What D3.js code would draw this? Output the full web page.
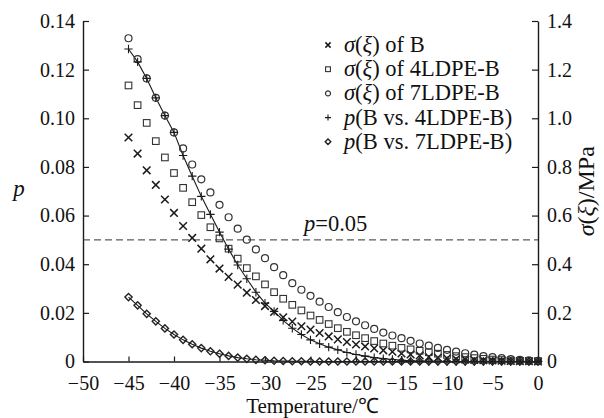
<!DOCTYPE html>
<html>
<head>
<meta charset="utf-8">
<script src="https://cdn.jsdelivr.net/npm/d3@7"></script>
<style>
  html, body { margin: 0; padding: 0; background: #fff; }
  svg { display: block; }
  text { font-family: "Liberation Serif", "Times New Roman", serif; fill: #111; }
</style>
</head>
<body>
<svg id="chart" width="604" height="418"></svg>
<script>
// Temperature (°C) of each sample point
const temperatures = [-45,-44,-43,-42,-41,-40,-39,-38,-37,-36,-35,-34,-33,-32,-31,-30,-29,-28,-27,-26,-25,-24,-23,-22,-21,-20,-19,-18,-17,-16,-15,-14,-13,-12,-11,-10,-9,-8,-7,-6,-5,-4,-3,-2,-1,0];

// Thermal stress σ(ξ) in MPa (right axis)
const sigmaB = [0.921,0.855,0.786,0.726,0.666,0.611,0.557,0.508,0.464,0.420,0.382,0.348,0.316,0.283,0.253,0.228,0.204,0.182,0.164,0.145,0.131,0.117,0.103,0.091,0.080,0.070,0.062,0.054,0.046,0.040,0.033,0.029,0.025,0.019,0.016,0.013,0.010,0.008,0.006,0.005,0.004,0.003,0.002,0.001,0.001,0.000];
const sigma4LDPE = [1.135,1.054,0.981,0.906,0.839,0.775,0.714,0.655,0.602,0.552,0.506,0.464,0.423,0.384,0.350,0.317,0.285,0.258,0.233,0.210,0.189,0.171,0.154,0.137,0.122,0.108,0.096,0.084,0.074,0.065,0.056,0.050,0.044,0.038,0.032,0.027,0.022,0.018,0.014,0.011,0.008,0.006,0.004,0.003,0.002,0.001];
const sigma7LDPE = [1.329,1.243,1.164,1.084,1.011,0.942,0.876,0.810,0.749,0.695,0.644,0.593,0.546,0.501,0.461,0.425,0.388,0.355,0.322,0.295,0.270,0.246,0.224,0.203,0.183,0.165,0.149,0.134,0.119,0.107,0.096,0.085,0.074,0.065,0.056,0.048,0.041,0.034,0.028,0.022,0.018,0.014,0.010,0.007,0.005,0.003];

// Significance p of the paired comparisons (left axis)
const pB4LDPE = [0.1285,0.1232,0.1164,0.1084,0.1011,0.0942,0.0847,0.0762,0.0679,0.0605,0.0532,0.0462,0.0397,0.0340,0.0285,0.0240,0.0206,0.0169,0.0137,0.0111,0.0089,0.0073,0.0059,0.0048,0.0037,0.0029,0.0022,0.0016,0.0012,0.0008,0.0005,0.0003,0.0002,0.0001,0.0001,0,0,0,0,0,0,0,0,0,0,0];
const pB7LDPE = [0.0265,0.0231,0.0196,0.0165,0.0136,0.0111,0.0089,0.0071,0.0055,0.0042,0.0032,0.0023,0.0016,0.0011,0.0007,0.0005,0.0003,0.0002,0.0001,0.0001,0,0,0,0,0,0,0,0,0,0,0,0,0,0,0,0,0,0,0,0,0,0,0,0,0,0];

// Axis ticks
const xTicks = [-50,-45,-40,-35,-30,-25,-20,-15,-10,-5,0];
const pTicks = [0,0.02,0.04,0.06,0.08,0.10,0.12,0.14];
const sigmaTicks = [0,0.2,0.4,0.6,0.8,1.0,1.2,1.4];
const pThreshold = 0.05;

const svg = d3.select("#chart");
const plot = { left: 83, right: 538, top: 21, bottom: 361.5 };
const ink = "#1a1a1a";
const tickFont = 20;
const textFont = 22.5;
const serif = '"Liberation Serif", "Times New Roman", serif';

const x = d3.scaleLinear().domain([-50, 0]).range([plot.left, plot.right]);
const yP = d3.scaleLinear().domain([0, 0.14]).range([plot.bottom, plot.top]);
const yS = d3.scaleLinear().domain([0, 1.4]).range([plot.bottom, plot.top]);

const fmtP = d => d === 0 ? "0" : d3.format(".2f")(d);
const fmtS = d => d === 0 ? "0" : d3.format(".1f")(d);

function styleAxis(g) {
  g.attr("font-family", serif).attr("font-size", tickFont);
  g.select(".domain").attr("stroke", ink).attr("stroke-width", 1.4);
  g.selectAll(".tick line").attr("stroke", ink).attr("stroke-width", 1.2);
  g.selectAll(".tick text").attr("fill", ink);
}

svg.append("g")
  .attr("transform", `translate(0,${plot.bottom})`)
  .call(d3.axisBottom(x).tickValues(xTicks).tickSizeInner(-5).tickSizeOuter(0).tickPadding(14.5))
  .call(styleAxis);

svg.append("g")
  .attr("transform", `translate(${plot.left},0)`)
  .call(d3.axisLeft(yP).tickValues(pTicks).tickFormat(fmtP).tickSizeInner(-6).tickSizeOuter(0).tickPadding(8))
  .call(styleAxis);

svg.append("g")
  .attr("transform", `translate(${plot.right},0)`)
  .call(d3.axisRight(yS).tickValues(sigmaTicks).tickFormat(fmtS).tickSizeInner(-6).tickSizeOuter(0).tickPadding(9))
  .call(styleAxis);

// Axis titles
svg.append("text")
  .attr("x", (plot.left + plot.right) / 2 + 2).attr("y", 413.3)
  .attr("text-anchor", "middle").style("font-size", "21px")
  .text("Temperature/℃");

svg.append("text")
  .attr("x", 19).attr("y", 196)
  .attr("text-anchor", "middle").style("font-size", "23px").style("font-style", "italic")
  .text("p");

const rightTitle = svg.append("text")
  .attr("transform", `translate(594,${(plot.top + plot.bottom) / 2}) rotate(-90)`)
  .attr("text-anchor", "middle").style("font-size", "24px");
rightTitle.append("tspan").style("font-style", "italic").text("σ");
rightTitle.append("tspan").text("(");
rightTitle.append("tspan").style("font-style", "italic").text("ξ");
rightTitle.append("tspan").text(")/MPa");

// Significance threshold
svg.append("line")
  .attr("x1", plot.left).attr("x2", plot.right)
  .attr("y1", yP(pThreshold)).attr("y2", yP(pThreshold))
  .attr("stroke", "#333").attr("stroke-width", 1).attr("stroke-dasharray", "7,4");

const thLabel = svg.append("text")
  .attr("x", 304).attr("y", yP(pThreshold) - 9)
  .style("font-size", textFont + "px");
thLabel.append("tspan").style("font-style", "italic").text("p");
thLabel.append("tspan").text("=0.05");

// Marker shapes
const markers = {
  cross: (g, s) => g.append("path").attr("d", `M${-s},${-s}L${s},${s}M${-s},${s}L${s},${-s}`)
    .attr("fill", "none").attr("stroke", ink).attr("stroke-width", 1.5),
  square: (g, s) => g.append("rect").attr("x", -s).attr("y", -s).attr("width", 2 * s).attr("height", 2 * s)
    .attr("fill", "none").attr("stroke", "#333").attr("stroke-width", 1.1),
  circle: (g, s) => g.append("circle").attr("r", s)
    .attr("fill", "none").attr("stroke", "#333").attr("stroke-width", 1.2),
  plus: (g, s) => g.append("path").attr("d", `M${-s},0L${s},0M0,${-s}L0,${s}`)
    .attr("fill", "none").attr("stroke", ink).attr("stroke-width", 1.1),
  diamond: (g, s) => g.append("path").attr("d", `M0,${-s}L${s},0L0,${s}L${-s},0Z`)
    .attr("fill", "none").attr("stroke", "#222").attr("stroke-width", 1.4)
};

const series = [
  { label: ["σ", "(", "ξ", ") of B"], values: sigmaB, y: yS, shape: "cross", size: 3.8, legendSize: 2.6, line: false },
  { label: ["σ", "(", "ξ", ") of 4LDPE-B"], values: sigma4LDPE, y: yS, shape: "square", size: 3.3, legendSize: 2.4, line: false },
  { label: ["σ", "(", "ξ", ") of 7LDPE-B"], values: sigma7LDPE, y: yS, shape: "circle", size: 3.5, legendSize: 2.5, line: false },
  { label: ["p", "(B vs. 4LDPE-B)"], values: pB4LDPE, y: yP, shape: "plus", size: 4.2, legendSize: 3, line: true },
  { label: ["p", "(B vs. 7LDPE-B)"], values: pB7LDPE, y: yP, shape: "diamond", size: 3.6, legendSize: 2.8, line: true }
];

// Connecting lines for the p series
series.filter(s => s.line).forEach(s => {
  const line = d3.line().x((d, i) => x(temperatures[i])).y(d => s.y(d));
  svg.append("path").datum(s.values)
    .attr("d", line).attr("fill", "none").attr("stroke", ink).attr("stroke-width", 1.1);
});

// Point markers
series.forEach(s => {
  const g = svg.append("g");
  s.values.forEach((v, i) => {
    const m = g.append("g").attr("transform", `translate(${x(temperatures[i])},${s.y(v)})`);
    markers[s.shape](m, s.size);
  });
});

// Legend
const legend = svg.append("g");
series.forEach((s, i) => {
  const yRow = 45 + i * 24.2;
  const m = legend.append("g").attr("transform", `translate(328,${yRow})`);
  markers[s.shape](m, s.legendSize);
  const t = legend.append("text").attr("x", 344).attr("y", yRow + 7).style("font-size", textFont + "px");
  s.label.forEach(part => {
    const italic = (part === "σ" || part === "ξ" || part === "p");
    t.append("tspan").style("font-style", italic ? "italic" : "normal").text(part);
  });
});
</script>
</body>
</html>
